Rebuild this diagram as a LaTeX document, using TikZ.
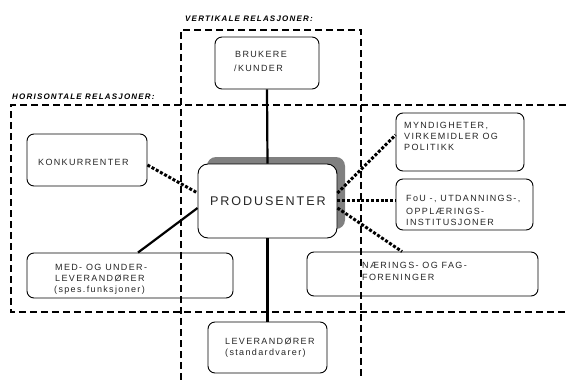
\documentclass[tikz,border=0pt]{standalone}
\usepackage{fontspec}
\setmainfont{Liberation Sans}
\newfontfamily\lsfont[LetterSpace=15]{Liberation Sans}
\begin{document}
\begin{tikzpicture}[x=1pt,y=-1pt]
\tikzset{
 box/.style={draw=black, line width=0.9pt, rounded corners=7pt, fill=white, inner sep=0pt},
 shade/.style={fill=black!50, rounded corners=9pt, inner sep=0pt},
 lbl/.style={anchor=base west, inner sep=0pt, font=\lsfont\fontsize{9}{11}\selectfont, text=black!85},
 big/.style={anchor=base west, inner sep=0pt, font=\lsfont\fontsize{12.6}{14}\selectfont, text=black!85},
 ttl/.style={anchor=base west, inner sep=0pt, font=\lsfont\bfseries\itshape\fontsize{8}{10}\selectfont},
 region/.style={line width=2pt, dash pattern=on 7pt off 4pt},
 solidcon/.style={line width=2.2pt},
 dotcon/.style={line width=3pt, dash pattern=on 3pt off 1.8pt},
}
\useasboundingbox (0,0) rectangle (566,380);
\fill[white] (0,0) rectangle (566,380);

% boxes
\node[box, minimum width=104pt, minimum height=52pt] (bruk) at (267,63) {};
\node[box, minimum width=120pt, minimum height=52pt] (konk) at (87,160) {};
\node[shade, minimum width=138pt, minimum height=72pt] (shadow) at (276,193) {};
\node[box, rounded corners=10pt, minimum width=139pt, minimum height=74pt] (prod) at (267.5,201) {};
\node[box, minimum width=128pt, minimum height=58pt] (mynd) at (460,142) {};
\node[box, minimum width=137pt, minimum height=51pt] (fou) at (464.5,204.5) {};
\node[box, minimum width=231pt, minimum height=44pt] (naer) at (422.5,274) {};
\node[box, minimum width=206pt, minimum height=45pt] (med) at (130,275.5) {};
\node[box, minimum width=119pt, minimum height=51pt] (lev) at (267.5,347.5) {};

% texts
\node[ttl] (tv) at (185,21.7) {VERTIKALE RELASJONER:};
\node[ttl] (th) at (12,99.3) {HORISONTALE RELASJONER:};
\node[lbl] (b1) at (235,57.5) {BRUKERE};
\node[lbl] (b2) at (234,71) {/KUNDER};
\node[lbl] (k1) at (38,165) {KONKURRENTER};
\node[big] (p1) at (210,205) {PRODUSENTER};
\node[lbl] (m1) at (404,128.3) {MYNDIGHETER,};
\node[lbl] (m2) at (404,139.5) {VIRKEMIDLER OG};
\node[lbl] (m3) at (404,150.7) {POLITIKK};
\node[lbl] (f1) at (406,201.7) {FoU -, UTDANNINGS-,};
\node[lbl] (f2) at (406,214) {OPPLÆRINGS-};
\node[lbl] (f3) at (406,225.3) {INSTITUSJONER};
\node[lbl] (n1) at (362,268.3) {NÆRINGS- OG FAG-};
\node[lbl] (n2) at (362,280) {FORENINGER};
\node[lbl] (e1) at (55,270) {MED- OG UNDER-};
\node[lbl] (e2) at (55,281.7) {LEVERANDØRER};
\node[lbl] (e3) at (54,292.5) {(spes.funksjoner)};
\node[lbl] (l1) at (225,344) {LEVERANDØRER};
\node[lbl] (l2) at (225,355.5) {(standardvarer)};

% regions
\draw[region] (181,380) -- (181,30) -- (361,30) -- (361,380);
\draw[region] (566,105) -- (11,105) -- (11,312) -- (566,312);

% connectors
\draw[solidcon] (bruk.south) -- (prod.north);
\draw[solidcon] (prod.south) -- (lev.north);
\draw[solidcon] ([xshift=8pt]med.north) -- ([yshift=-7pt]prod.west);
\draw[dotcon] ([yshift=-5pt]konk.east) -- ([yshift=8pt]prod.west);
\draw[dotcon] ([yshift=8pt]prod.east) -- ([yshift=7pt]mynd.west);
\draw[dotcon] ([yshift=1pt]prod.east) -- ([yshift=4.5pt]fou.west);
\draw[dotcon] ([yshift=-7pt]prod.east) -- ([xshift=-20.5pt]naer.north);
\end{tikzpicture}
\end{document}
